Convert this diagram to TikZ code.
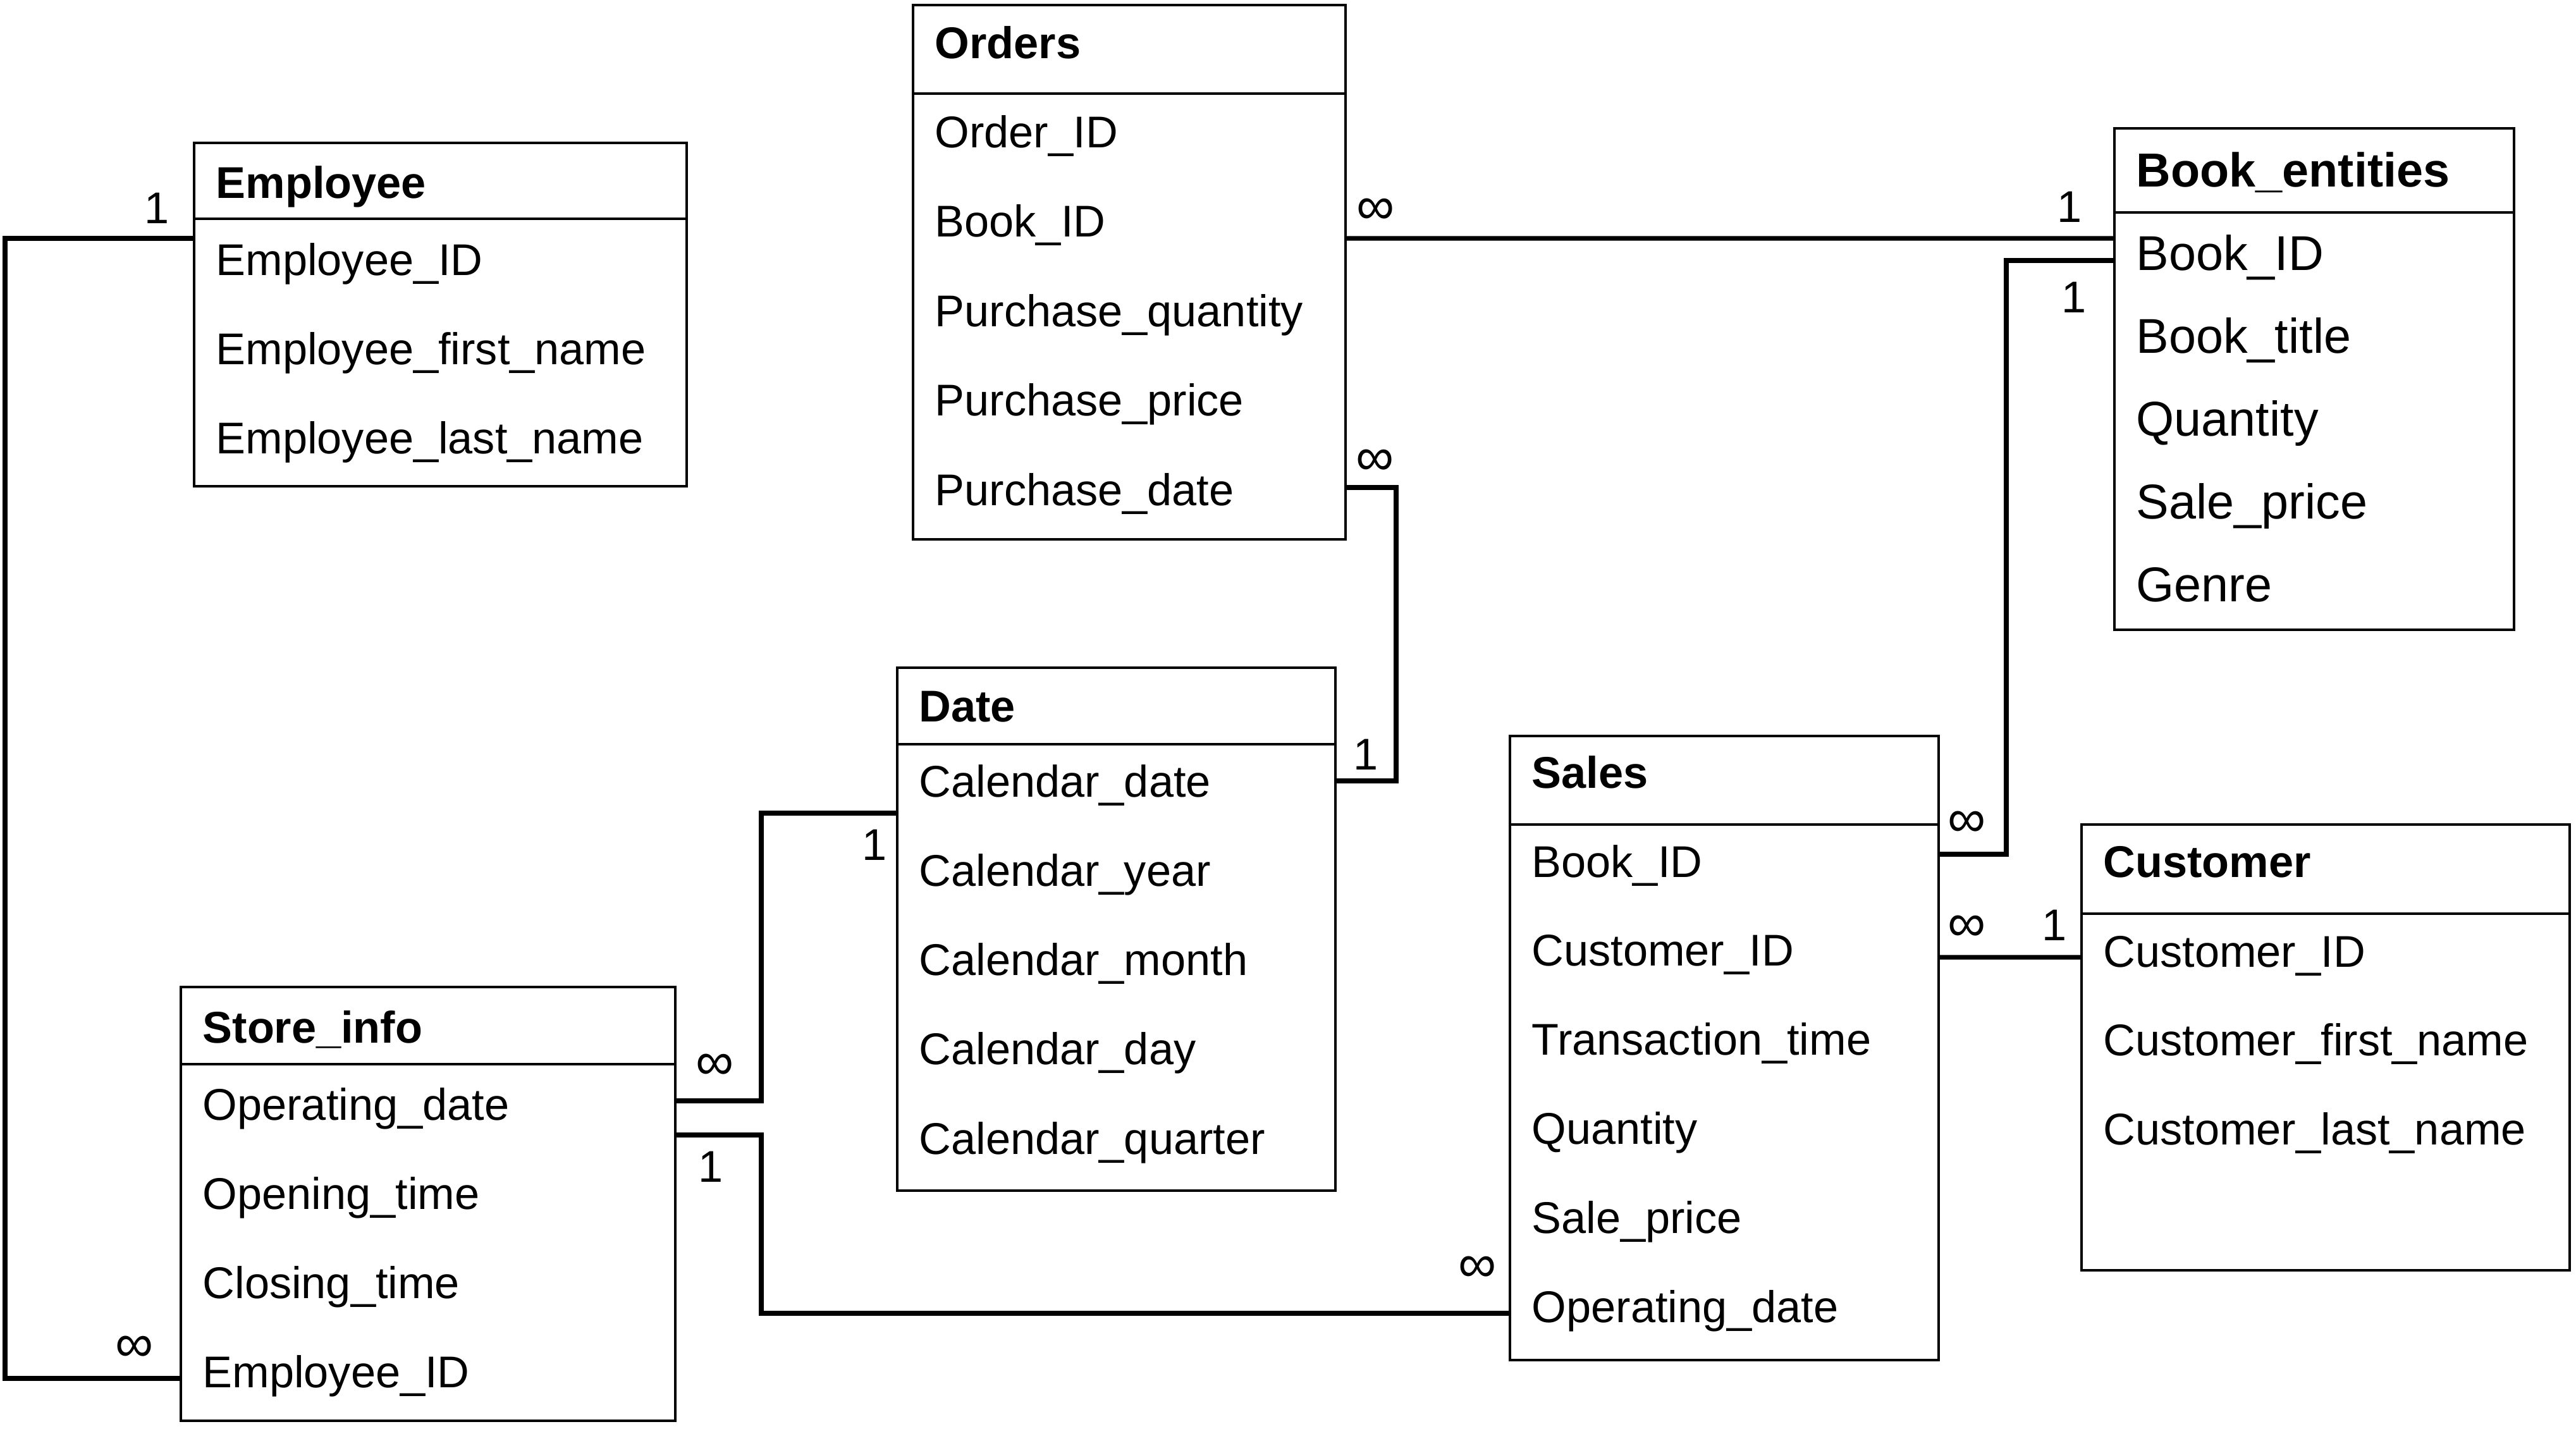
\documentclass[tikz,border=0pt]{standalone}
\usepackage{fontspec}
\setmainfont{Liberation Sans}
\usetikzlibrary{positioning,calc}
\tikzset{
  tblhead/.style={draw,line width=1.1pt,anchor=north west,inner sep=0pt,outer sep=0pt},
  tblbody/.style={draw,line width=1.1pt,inner sep=0pt,outer sep=0pt},
  tbltitle/.style={anchor=base west,inner sep=0pt,font=\fontsize{20}{24}\selectfont\bfseries},
  attr/.style={anchor=base west,inner sep=0pt},
  card/.style={inner sep=0pt},
  many/.style={inner sep=0pt,font=\fontsize{24}{26}\selectfont},
  rel/.style={line width=2.1pt}
}

\begin{document}
\begin{tikzpicture}[font=\fontsize{20}{24}\selectfont]
\useasboundingbox (0,0) rectangle (40.74,-22.59);

% Employee
\node[tblhead, minimum width=7.79cm, minimum height=1.20cm] (emp-head) at (3.07,-2.26) {};
\node[tblbody, minimum width=7.79cm, minimum height=4.23cm, below=0pt of emp-head] (emp) {};
\node[tbltitle] (emp-title) at ($(emp-head.north west)+(0.34,-0.87)$) {Employee};
\foreach \a [count=\i] in {Employee\_ID,Employee\_first\_name,Employee\_last\_name}
  \node[attr] (emp-\i) at ($(emp.north west)+(0.34,{-0.89-1.41*(\i-1)})$) {\a};

% Orders
\node[tblhead, minimum width=6.84cm, minimum height=1.40cm] (ord-head) at (14.44,-0.08) {};
\node[tblbody, minimum width=6.84cm, minimum height=7.05cm, below=0pt of ord-head] (ord) {};
\node[tbltitle] (ord-title) at ($(ord-head.north west)+(0.34,-0.84)$) {Orders};
\foreach \a [count=\i] in {Order\_ID,Book\_ID,Purchase\_quantity,Purchase\_price,Purchase\_date}
  \node[attr] (ord-\i) at ($(ord.north west)+(0.34,{-0.85-1.415*(\i-1)})$) {\a};

% Book_entities
\node[tblhead, minimum width=6.32cm, minimum height=1.33cm] (book-head) at (33.44,-2.03) {};
\node[tblbody, minimum width=6.32cm, minimum height=6.60cm, below=0pt of book-head] (book) {};
\node[tbltitle, font=\fontsize{21.5}{26}\selectfont\bfseries] (book-title) at ($(book-head.north west)+(0.34,-0.92)$) {Book\_entities};
\foreach \a [count=\i] in {Book\_ID,Book\_title,Quantity,Sale\_price,Genre}
  \node[attr, font=\fontsize{22}{26}\selectfont] (book-\i) at ($(book.north west)+(0.34,{-0.91-1.31*(\i-1)})$) {\a};

% Date
\node[tblhead, minimum width=6.93cm, minimum height=1.21cm] (date-head) at (14.19,-10.56) {};
\node[tblbody, minimum width=6.93cm, minimum height=7.06cm, below=0pt of date-head] (date) {};
\node[tbltitle] (date-title) at ($(date-head.north west)+(0.34,-0.85)$) {Date};
\foreach \a [count=\i] in {Calendar\_date,Calendar\_year,Calendar\_month,Calendar\_day,Calendar\_quarter}
  \node[attr] (date-\i) at ($(date.north west)+(0.34,{-0.83-1.4125*(\i-1)})$) {\a};

% Sales
\node[tblhead, minimum width=6.78cm, minimum height=1.40cm] (sales-head) at (23.88,-11.64) {};
\node[tblbody, minimum width=6.78cm, minimum height=8.47cm, below=0pt of sales-head] (sales) {};
\node[tbltitle] (sales-title) at ($(sales-head.north west)+(0.34,-0.82)$) {Sales};
\foreach \a [count=\i] in {Book\_ID,Customer\_ID,Transaction\_time,Quantity,Sale\_price,Operating\_date}
  \node[attr] (sales-\i) at ($(sales.north west)+(0.34,{-0.83-1.408*(\i-1)})$) {\a};

% Customer
\node[tblhead, minimum width=7.72cm, minimum height=1.41cm] (cust-head) at (32.92,-13.04) {};
\node[tblbody, minimum width=7.72cm, minimum height=5.64cm, below=0pt of cust-head] (cust) {};
\node[tbltitle] (cust-title) at ($(cust-head.north west)+(0.34,-0.83)$) {Customer};
\foreach \a [count=\i] in {Customer\_ID,Customer\_first\_name,Customer\_last\_name}
  \node[attr] (cust-\i) at ($(cust.north west)+(0.34,{-0.84-1.405*(\i-1)})$) {\a};

% Store_info
\node[tblhead, minimum width=7.82cm, minimum height=1.22cm] (store-head) at (2.86,-15.61) {};
\node[tblbody, minimum width=7.82cm, minimum height=5.64cm, below=0pt of store-head] (store) {};
\node[tbltitle] (store-title) at ($(store-head.north west)+(0.34,-0.88)$) {Store\_info};
\foreach \a [count=\i] in {Operating\_date,Opening\_time,Closing\_time,Employee\_ID}
  \node[attr] (store-\i) at ($(store.north west)+(0.34,{-0.88-1.41*(\i-1)})$) {\a};

% relationships
\draw[rel] ($(emp.north west)+(0,-0.31)$) -| ($(store.south west)+(-2.78,0.67)$) -- ($(store.south west)+(0,0.67)$);
\draw[rel] ($(ord.north east)+(0,-2.29)$) -- ($(book.north west)+(0,-0.41)$);
\draw[rel] ($(ord.north east)+(0,-6.23)$) -| ($(date.north east)+(0.96,-0.58)$) -- ($(date.north east)+(0,-0.58)$);
\draw[rel] ($(book.north west)+(0,-0.76)$) -| ($(sales.north east)+(1.07,-0.47)$) -- ($(sales.north east)+(0,-0.47)$);
\draw[rel] ($(sales.north east)+(0,-2.10)$) -- ($(cust.north west)+(0,-0.69)$);
\draw[rel] ($(store.north east)+(0,-0.58)$) -| ($(date.north west)+(-2.15,-1.09)$) -- ($(date.north west)+(0,-1.09)$);
\draw[rel] ($(store.north east)+(0,-1.12)$) -| ($(sales.north west)+(-11.84,-7.73)$) -- ($(sales.north west)+(0,-7.73)$);

% cardinalities
\node[card] (c-emp)    at (2.48,-3.29) {1};
\node[many] (c-store1) at (2.13,-21.33) {∞};
\node[many] (c-ord1)   at (21.76,-3.34) {∞};
\node[card] (c-book1)  at (32.73,-3.27) {1};
\node[card] (c-book2)  at (32.80,-4.70) {1};
\node[many] (c-ord2)   at (21.75,-7.31) {∞};
\node[card] (c-date1)  at (21.60,-11.93) {1};
\node[many] (c-sales1) at (31.11,-13.03) {∞};
\node[many] (c-sales2) at (31.11,-14.68) {∞};
\node[card] (c-cust)   at (32.49,-14.63) {1};
\node[many] (c-store2) at (11.31,-16.87) {∞};
\node[card] (c-date2)  at (13.83,-13.36) {1};
\node[card] (c-store3) at (11.24,-18.45) {1};
\node[many] (c-sales3) at (23.37,-20.07) {∞};
\end{tikzpicture}
\end{document}
